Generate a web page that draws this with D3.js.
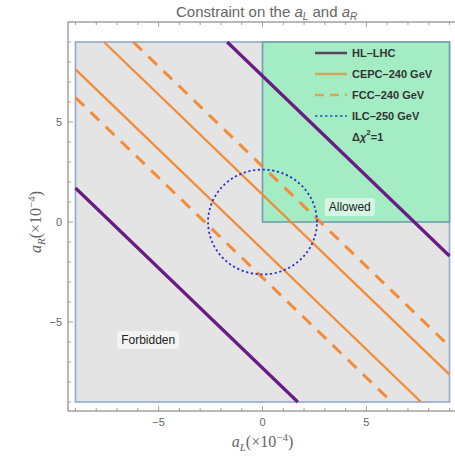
<!DOCTYPE html>
<html>
<head>
<meta charset="utf-8">
<script src="https://cdn.jsdelivr.net/npm/d3@7"></script>
<style>
  html, body { margin: 0; padding: 0; background: #fff; }
  svg { display: block; }
</style>
</head>
<body>
<svg id="chart" width="455" height="456"></svg>
<script>
// Bands are straight lines a_L + a_R = c (units of 1e-4)
const hlLhcOffsets = [7.3, -7.3];
const cepcOffsets = [1.37, -1.37];
const fccOffsets = [2.78, -2.78];
const ilcRadius = [2.62];
const regionBounds = [-9, 9];
const xTicks = [-5, 0, 5];
const yTicks = [-5, 0, 5];
const legendNames = ["HL\u2013LHC", "CEPC\u2013240 GeV", "FCC\u2013240 GeV", "ILC\u2013250 GeV"];

const svg = d3.select("#chart");
const x = d3.scaleLinear().domain([-9.36, 9.36]).range([68, 457]);
const y = d3.scaleLinear().domain([-9.45, 10]).range([411, 22]);

const [lo, hi] = regionBounds;

// forbidden background
svg.append("rect")
  .attr("x", x(lo)).attr("y", y(hi))
  .attr("width", x(hi) - x(lo)).attr("height", y(lo) - y(hi))
  .attr("fill", "#e4e4e4").attr("stroke", "#8fa9cf").attr("stroke-width", 1.6);

// allowed quadrant
svg.append("rect")
  .attr("x", x(0)).attr("y", y(hi))
  .attr("width", x(hi) - x(0)).attr("height", y(0) - y(hi))
  .attr("fill", "#a4ecc4").attr("stroke", "#6f9fb0").attr("stroke-width", 1.6);

const plot = svg.append("g");

function bandLine(c) {
  const x0 = Math.max(lo, c - hi), x1 = Math.min(hi, c - lo);
  return [[x0, c - x0], [x1, c - x1]];
}
const line = d3.line().x(d => x(d[0])).y(d => y(d[1]));

cepcOffsets.forEach(c => plot.append("path").attr("d", line(bandLine(c)))
  .attr("fill", "none").attr("stroke", "#f28c38").attr("stroke-width", 2.3));
fccOffsets.forEach(c => plot.append("path").attr("d", line(bandLine(c)))
  .attr("fill", "none").attr("stroke", "#f28c38").attr("stroke-width", 3)
  .attr("stroke-dasharray", "12,9"));
hlLhcOffsets.forEach(c => plot.append("path").attr("d", line(bandLine(c)))
  .attr("fill", "none").attr("stroke", "#6a1b85").attr("stroke-width", 3.2));

// ILC circle
const circlePts = d3.range(0, 361, 2).map(a => [ilcRadius[0] * Math.cos(a * Math.PI / 180), ilcRadius[0] * Math.sin(a * Math.PI / 180)]);
plot.append("path").attr("d", line(circlePts))
  .attr("fill", "none").attr("stroke", "#2b2fd0").attr("stroke-width", 1.8)
  .attr("stroke-dasharray", "2.2,2.6");

// region labels
function boxLabel(txt, cx, cy) {
  const g = svg.append("g");
  const t = g.append("text").attr("x", cx).attr("y", cy)
    .attr("text-anchor", "middle").attr("dominant-baseline", "central")
    .attr("font-family", "Liberation Sans, Arial, sans-serif").attr("font-size", 12)
    .attr("fill", "#222").text(txt);
  const b = t.node().getBBox();
  g.insert("rect", "text").attr("x", b.x - 4).attr("y", b.y - 2)
    .attr("width", b.width + 8).attr("height", b.height + 4)
    .attr("rx", 3).attr("fill", "#fff").attr("fill-opacity", 0.55);
}
boxLabel("Allowed", x(4.2), y(0.75));
boxLabel("Forbidden", x(-5.5), y(-5.9));

// frame
const frame = svg.append("g").attr("stroke", "#8a8a8a").attr("fill", "none");
frame.append("rect").attr("x", x(-9.36)).attr("y", y(10)).attr("width", x(9.36) - x(-9.36)).attr("height", y(-9.45) - y(10))
  .attr("stroke-width", 1.2);

// ticks (inward), major and minor
const minorX = d3.range(-9, 10, 1);
const minorY = d3.range(-9, 10, 1);
minorX.forEach(v => {
  const len = xTicks.includes(v) ? 5 : 3;
  frame.append("line").attr("x1", x(v)).attr("x2", x(v)).attr("y1", y(-9.45)).attr("y2", y(-9.45) - len).attr("stroke-width", 0.8);
  frame.append("line").attr("x1", x(v)).attr("x2", x(v)).attr("y1", y(10)).attr("y2", y(10) + len).attr("stroke-width", 0.8);
});
minorY.forEach(v => {
  const len = yTicks.includes(v) ? 5 : 3;
  frame.append("line").attr("y1", y(v)).attr("y2", y(v)).attr("x1", x(-9.36)).attr("x2", x(-9.36) + len).attr("stroke-width", 0.8);
});

const fmt = v => v < 0 ? "\u2212" + Math.abs(v) : String(v);
svg.append("g").selectAll("text").data(xTicks).join("text")
  .attr("x", d => x(d)).attr("y", 426).attr("text-anchor", "middle")
  .attr("font-family", "Liberation Sans, Arial, sans-serif").attr("font-size", 11).attr("fill", "#666")
  .text(fmt);
svg.append("g").selectAll("text").data(yTicks).join("text")
  .attr("x", 62).attr("y", d => y(d)).attr("text-anchor", "end").attr("dominant-baseline", "central")
  .attr("font-family", "Liberation Sans, Arial, sans-serif").attr("font-size", 11).attr("fill", "#666")
  .text(fmt);

// axis titles
const xl = svg.append("text").attr("x", x(0)).attr("y", 447).attr("text-anchor", "middle")
  .attr("font-family", "Liberation Serif, Times New Roman, serif").attr("font-size", 16).attr("fill", "#666");
xl.append("tspan").attr("font-style", "italic").text("a");
xl.append("tspan").attr("font-style", "italic").attr("font-size", 11).attr("dy", 4).text("L");
xl.append("tspan").attr("dy", -4).text("(\u00d710");
xl.append("tspan").attr("font-size", 11).attr("dy", -6).text("\u22124");
xl.append("tspan").attr("dy", 6).text(")");

const yl = svg.append("text").attr("transform", `translate(41,${y(0)}) rotate(-90)`).attr("text-anchor", "middle")
  .attr("font-family", "Liberation Serif, Times New Roman, serif").attr("font-size", 16).attr("fill", "#666");
yl.append("tspan").attr("font-style", "italic").text("a");
yl.append("tspan").attr("font-style", "italic").attr("font-size", 11).attr("dy", 4).text("R");
yl.append("tspan").attr("dy", -4).text("(\u00d710");
yl.append("tspan").attr("font-size", 11).attr("dy", -6).text("\u22124");
yl.append("tspan").attr("dy", 6).text(")");

// title
const title = svg.append("text").attr("x", x(0.2)).attr("y", 17).attr("text-anchor", "middle")
  .attr("font-family", "Liberation Sans, Arial, sans-serif").attr("font-size", 15).attr("fill", "#666");
title.append("tspan").text("Constraint on the ");
title.append("tspan").attr("font-style", "italic").text("a");
title.append("tspan").attr("font-style", "italic").attr("font-size", 10).attr("dy", 3).text("L");
title.append("tspan").attr("dy", -3).text(" and ");
title.append("tspan").attr("font-style", "italic").text("a");
title.append("tspan").attr("font-style", "italic").attr("font-size", 10).attr("dy", 3).text("R");

// legend
const legendColors = ["#57465f", "#cfa95a", "#cfa95a", "#3f7fc8"];
const legendDash = [null, null, "9,6", "2.5,2.5"];
const lg = svg.append("g");
const ly0 = 53, lstep = 21;
legendNames.forEach((name, i) => {
  const yy = ly0 + i * lstep;
  lg.append("line").attr("x1", 315).attr("x2", 347).attr("y1", yy).attr("y2", yy)
    .attr("stroke", legendColors[i]).attr("stroke-width", i === 3 ? 1.8 : 2.5)
    .attr("stroke-dasharray", legendDash[i]);
  lg.append("text").attr("x", 352).attr("y", yy).attr("dominant-baseline", "central")
    .attr("font-family", "Liberation Sans, Arial, sans-serif").attr("font-size", 11)
    .attr("font-weight", "bold").attr("fill", "#333").text(name);
});
const chi = lg.append("text").attr("x", 352).attr("y", ly0 + 4 * lstep).attr("dominant-baseline", "central")
  .attr("font-family", "Liberation Sans, Arial, sans-serif").attr("font-size", 11)
  .attr("font-weight", "bold").attr("fill", "#333");
chi.append("tspan").text("\u0394");
chi.append("tspan").attr("font-style", "italic").text("\u03c7");
chi.append("tspan").attr("font-size", 8).attr("dy", -5).text("2");
chi.append("tspan").attr("dy", 5).text("=1");
</script>
</body>
</html>
